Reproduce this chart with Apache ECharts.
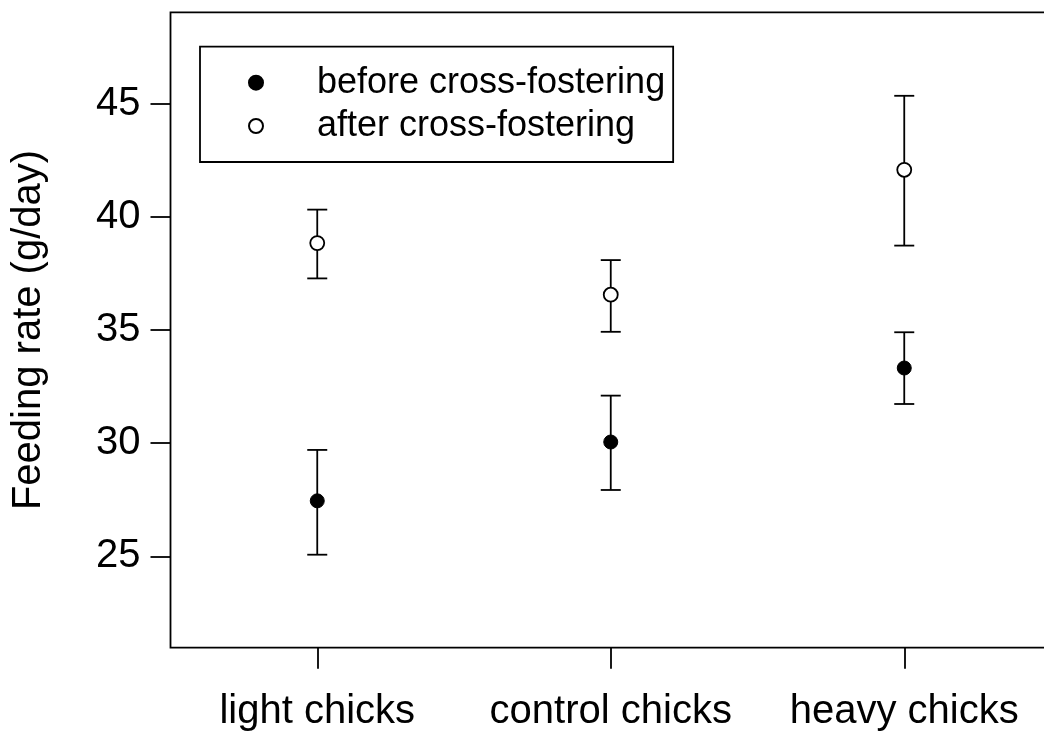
<!DOCTYPE html>
<html>
<head>
<meta charset="utf-8">
<script src="https://cdn.jsdelivr.net/npm/echarts@6/dist/echarts.min.js"></script>
<style>html,body{margin:0;padding:0;background:#fff;overflow:hidden;width:1044px;height:733px;}#c{width:1064px;height:733px;}</style>
</head>
<body>
<div id="c"></div>
<script>
const categories = ['light chicks', 'control chicks', 'heavy chicks'];
const beforeMean = [27.45, 30.05, 33.32];
const beforeLow  = [25.07, 27.93, 31.73];
const beforeHigh = [29.70, 32.10, 34.90];
const afterMean  = [38.84, 36.56, 42.08];
const afterLow   = [37.28, 34.92, 38.73];
const afterHigh  = [40.32, 38.09, 45.35];
const yTicks = [25, 30, 35, 40, 45];
const seriesNames = ['before cross-fostering', 'after cross-fostering'];

const FONT = 'Liberation Sans, Arial, Helvetica, sans-serif';
const FS = 40;
const LFS = 36;

function errData(low, high) {
  return categories.map((c, i) => [i + 1, low[i], high[i]]);
}
function renderErr(params, api) {
  const x = api.value(0);
  const lo = api.coord([x, api.value(1)]);
  const hi = api.coord([x, api.value(2)]);
  const w = 10;
  const st = { stroke: '#000', lineWidth: 1.8 };
  return {
    type: 'group',
    children: [
      { type: 'line', shape: { x1: lo[0], y1: lo[1], x2: hi[0], y2: hi[1] }, style: st },
      { type: 'line', shape: { x1: lo[0] - w, y1: lo[1], x2: lo[0] + w, y2: lo[1] }, style: st },
      { type: 'line', shape: { x1: hi[0] - w, y1: hi[1], x2: hi[0] + w, y2: hi[1] }, style: st }
    ]
  };
}

const chart = echarts.init(document.getElementById('c'), null, { renderer: 'canvas' });
chart.setOption({
  animation: false,
  backgroundColor: '#fff',
  textStyle: { fontFamily: FONT },
  grid: {
    left: 170.5, top: 12.3, width: 880.5, height: 635.4,
    show: true, borderColor: '#000', borderWidth: 1.8, backgroundColor: 'transparent'
  },
  legend: {
    orient: 'vertical',
    left: 200, top: 46.7,
    padding: [18, 8, 18, 48],
    itemWidth: 112, itemHeight: 14, itemGap: 7.3,
    borderColor: '#000', borderWidth: 1.8, backgroundColor: '#fff',
    textStyle: { fontFamily: FONT, fontSize: LFS, color: '#000', lineHeight: 36 },
    data: seriesNames
  },
  xAxis: {
    type: 'value', min: 0.5, max: 3.5,
    axisLine: { show: false },
    splitLine: { show: false },
    axisTick: { show: true, inside: false, length: 21, customValues: [1, 2, 3], lineStyle: { color: '#000', width: 1.8 } },
    axisLabel: {
      customValues: [1, 2, 3], margin: 44,
      fontFamily: FONT, fontSize: FS, color: '#000',
      formatter: v => categories[Math.round(v) - 1] || ''
    }
  },
  yAxis: {
    type: 'value', min: 20.96, max: 49.04,
    name: 'Feeding rate (g/day)', nameLocation: 'middle', nameGap: 122, nameRotate: 90,
    nameTextStyle: { fontFamily: FONT, fontSize: FS, color: '#000' },
    axisLine: { show: false },
    splitLine: { show: false },
    axisTick: { show: true, inside: false, length: 20, customValues: yTicks, lineStyle: { color: '#000', width: 1.8 } },
    axisLabel: {
      customValues: yTicks, margin: 30,
      fontFamily: FONT, fontSize: FS, color: '#000'
    }
  },
  series: [
    { type: 'custom', name: 'errBefore', renderItem: renderErr, data: errData(beforeLow, beforeHigh), z: 2, silent: true },
    { type: 'custom', name: 'errAfter', renderItem: renderErr, data: errData(afterLow, afterHigh), z: 2, silent: true },
    {
      type: 'scatter', name: seriesNames[0], symbol: 'circle', symbolSize: 14, z: 5,
      itemStyle: { color: '#000', borderColor: '#000', borderWidth: 1, opacity: 1 },
      data: beforeMean.map((v, i) => [i + 1, v])
    },
    {
      type: 'scatter', name: seriesNames[1], symbol: 'circle', symbolSize: 14, z: 5,
      itemStyle: { color: '#fff', borderColor: '#000', borderWidth: 1.8, opacity: 1 },
      data: afterMean.map((v, i) => [i + 1, v])
    }
  ]
});
</script>
</body>
</html>
